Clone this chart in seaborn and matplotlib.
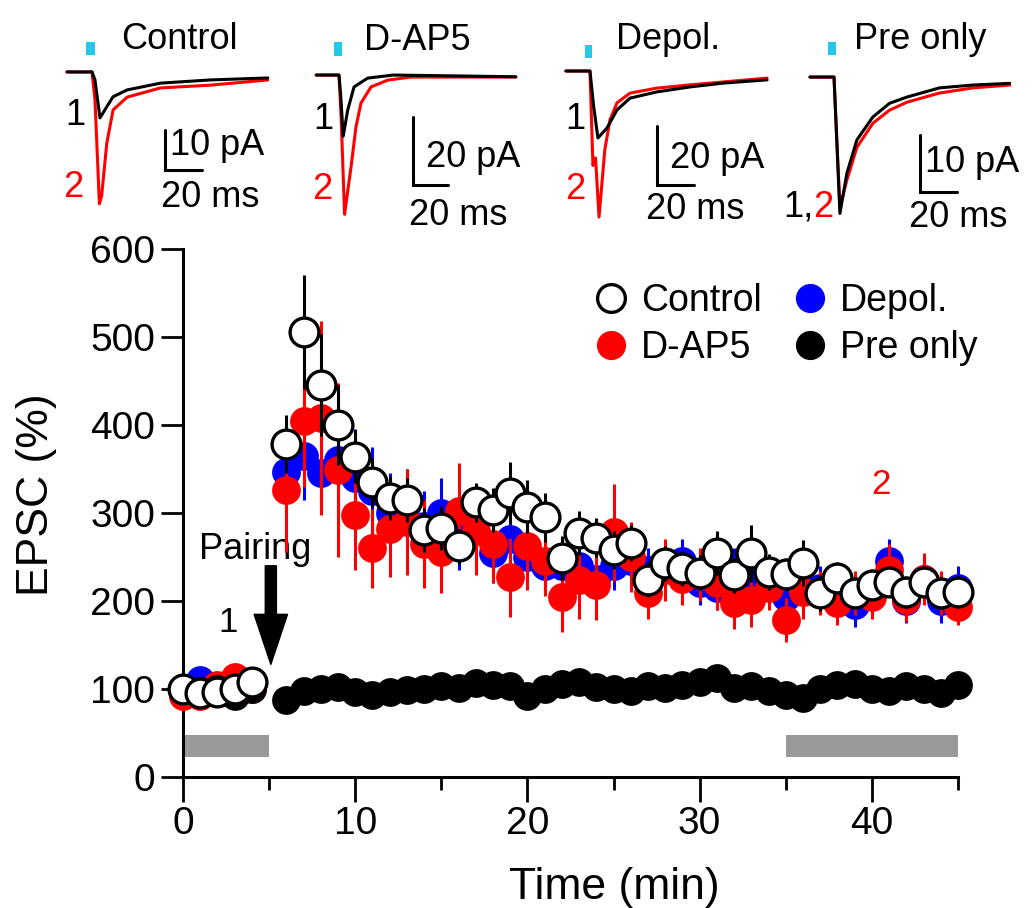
import matplotlib
matplotlib.use("Agg")
import matplotlib.pyplot as plt
from matplotlib.lines import Line2D
from matplotlib.patches import Rectangle
import seaborn as sns
import pandas as pd

# ---- time course data (EPSC, % of baseline) ----
time_base = [0, 1, 2, 3, 4]
time_post = list(range(6, 46))

control_base = [100, 95, 97, 100, 108]
control_post = [378, 506, 445, 400, 364, 335, 317, 315, 281, 283, 262, 312, 303,
                323, 307, 295, 249, 277, 272, 258, 266, 224, 243, 237, 232, 254,
                229, 254, 233, 231, 243, 209, 226, 209, 218, 222, 210, 222, 209, 210]
control_base_err = [10, 10, 10, 10, 12]
control_post_err = [33, 65, 58, 45, 30, 28, 25, 25, 25, 25, 20, 22, 25, 35, 30, 28,
                    25, 25, 22, 22, 20, 20, 20, 20, 20, 25, 20, 32, 20, 18, 26, 20,
                    18, 18, 18, 18, 18, 18, 18, 18]

dap5_base = [92, 92, 105, 114, 100]
dap5_post = [326, 405, 408, 349, 298, 260, 282, 290, 265, 256, 302, 280, 265, 227,
             262, 246, 205, 224, 218, 278, 250, 209, 235, 225, 230, 220, 198, 201,
             215, 178, 210, 209, 198, 209, 205, 235, 201, 225, 209, 193]
dap5_base_err = [12, 12, 14, 15, 12]
dap5_post_err = [70, 75, 110, 99, 63, 45, 55, 60, 50, 47, 55, 50, 45, 45, 50, 40,
                 40, 45, 40, 55, 40, 30, 35, 30, 30, 30, 30, 30, 25, 25, 30, 25,
                 25, 25, 25, 30, 25, 30, 25, 20]

depol_base = [100, 110, 100, 105, 103]
depol_post = [347, 365, 345, 360, 340, 325, 300, 310, 285, 300, 270, 290, 255, 270,
              250, 240, 240, 240, 225, 240, 245, 235, 240, 245, 220, 215, 235, 220,
              225, 205, 215, 215, 215, 195, 210, 245, 200, 225, 200, 215]
depol_base_err = [10, 10, 10, 10, 10]
depol_post_err = [40, 50, 45, 60, 55, 50, 45, 40, 40, 40, 35, 35, 35, 30, 30, 30,
                  30, 30, 28, 28, 28, 25, 25, 25, 25, 25, 25, 25, 25, 25, 25, 25,
                  25, 25, 25, 25, 25, 25, 25, 25]

pre_base = [100, 98, 100, 92, 100]
pre_post = [88, 98, 100, 102, 97, 93, 97, 99, 100, 103, 101, 107, 104, 103, 92,
            100, 106, 108, 102, 100, 98, 103, 101, 105, 108, 112, 101, 103, 98,
            93, 90, 100, 104, 106, 100, 98, 103, 100, 96, 105]

series_names = ["Depol.", "D-AP5", "Control", "Pre only"]

# ---- example traces (time in ms, current in pA) ----
ctrl_t1 = [-13.5, 0, 1.6, 4.3, 8, 11.4, 19, 37, 64, 95]
ctrl_i1 = [0, 0, -2, -11.5, -8.7, -6.2, -4.5, -2.8, -2, -1.5]
ctrl_t2 = [-13.5, 0, 1.6, 4, 5.2, 8, 11.4, 19, 37, 64, 95]
ctrl_i2 = [0, 0, -7, -33, -31, -17.8, -9.5, -6.3, -4, -3.3, -2]

dap5_t1 = [-13, 0, 1, 2.4, 5, 8.6, 16.4, 31, 101]
dap5_i1 = [0, 0, -6, -18, -10.3, -3.5, -0.9, 0, -0.5]
dap5_t2 = [-13, 0, 1.2, 3.2, 6.9, 9.7, 12.6, 18.3, 27.8, 41, 101]
dap5_i2 = [0, 0, -12, -41, -27, -15.3, -8.2, -3.5, -1.5, -0.6, -0.6]

depol_t1 = [-13, 0, 2, 4.3, 9.2, 14.6, 21.6, 36, 54, 72, 95.7]
depol_i1 = [0, 0, -12, -22.7, -19.3, -13.2, -9.2, -7.1, -5.4, -4.1, -3]
depol_t2 = [-13, 0, 1.6, 3, 4.9, 8, 10.8, 14.6, 21.6, 36, 54, 72, 95.7]
depol_i2 = [0, 0, -32, -29.5, -49.5, -26.8, -16.6, -10.8, -7.5, -5.8, -4.7, -3.7, -2.4]

pre_t1 = [-13, 0, 3.2, 7, 12.4, 21, 30, 39.5, 57, 75, 95]
pre_i1 = [0, 0, -23.9, -16.8, -11, -7, -4.6, -3.5, -1.9, -1.4, -1.1]
pre_t2 = [-13, 0, 3.2, 7, 12.4, 21, 30, 39.5, 57, 75, 95]
pre_i2 = [0, 0, -22.8, -18, -12.3, -8.1, -5.8, -4.4, -2.8, -1.9, -1.4]

sns.set_style("ticks")
plt.rcParams["font.family"] = ["Liberation Sans", "DejaVu Sans"]
for k in ["text.color", "axes.labelcolor", "xtick.color", "ytick.color",
          "axes.edgecolor"]:
    plt.rcParams[k] = "black"

W, H = 1034, 908
fig = plt.figure(figsize=(W / 100, H / 100), dpi=100)


def px_axes(x0, y0, x1, y1):
    return fig.add_axes([x0 / W, 1 - y1 / H, (x1 - x0) / W, (y1 - y0) / H])


# ---- main time-course panel ----
ax = px_axes(183, 249, 958, 777)

colors = {"Control": "white", "D-AP5": "#ff0000", "Depol.": "#0000ff", "Pre only": "black"}
err_colors = {"Control": "black", "D-AP5": "#ff0000", "Depol.": "#0000ff", "Pre only": "black"}
values = {
    "Control": (control_base + control_post, control_base_err + control_post_err),
    "D-AP5": (dap5_base + dap5_post, dap5_base_err + dap5_post_err),
    "Depol.": (depol_base + depol_post, depol_base_err + depol_post_err),
    "Pre only": (pre_base + pre_post, [0] * (len(pre_base) + len(pre_post))),
}
times = time_base + time_post

rows = []
for name in series_names:
    vals, errs = values[name]
    for t, v, e in zip(times, vals, errs):
        rows.append({"time": t, "epsc": v, "sem": e, "group": name})
df = pd.DataFrame(rows)

z = {"Depol.": 3, "D-AP5": 4, "Control": 6, "Pre only": 5}
for name in series_names:
    d = df[df["group"] == name]
    ax.vlines(d["time"], d["epsc"] - d["sem"], d["epsc"] + d["sem"],
              color=err_colors[name], lw=2.2, zorder=z[name], clip_on=False)
    sns.scatterplot(data=d, x="time", y="epsc", ax=ax, s=430,
                    color=colors[name],
                    edgecolor="black" if name == "Control" else colors[name],
                    linewidth=2.4 if name == "Control" else 0,
                    zorder=z[name] + 0.5, clip_on=False, legend=False)

# conditioning bars
ax.fill_between([0, 5], 23, 48, color="#999999", lw=0, zorder=2)
ax.fill_between([35, 45], 23, 48, color="#999999", lw=0, zorder=2)

ax.annotate("", xy=(5.1, 128), xytext=(5.1, 240),
            arrowprops=dict(facecolor="black", edgecolor="black", width=8,
                            headwidth=24, headlength=36, shrink=0))
ax.text(4.2, 258, "Pairing", ha="center", va="center", fontsize=26)
ax.text(2.6, 175, "1", ha="center", va="center", fontsize=25)
ax.text(40.5, 332, "2", ha="center", va="center", fontsize=25, color="#ff0000")

ax.set_xlim(0, 45)
ax.set_ylim(0, 600)
ax.set_xticks([0, 10, 20, 30, 40])
ax.set_xticks([5, 15, 25, 35, 45], minor=True)
ax.set_yticks(range(0, 601, 100))
ax.tick_params(axis="both", which="both", direction="out", width=2, labelsize=28)
ax.tick_params(axis="x", which="major", length=18, pad=3)
ax.tick_params(axis="x", which="minor", length=9.5)
ax.tick_params(axis="y", length=16, pad=4)
ax.set_xlabel("Time (min)", fontsize=32)
ax.set_ylabel("EPSC (%)", fontsize=32)
ax.xaxis.set_label_coords(0.557, -0.17)
ax.yaxis.set_label_coords(-0.163, 0.534)
for s in ["top", "right"]:
    ax.spines[s].set_visible(False)
for s in ["left", "bottom"]:
    ax.spines[s].set_linewidth(2.2)
ax.set_facecolor("none")

handles = [
    Line2D([], [], ls="", marker="o", ms=20, mfc="white", mec="black", mew=2.4),
    Line2D([], [], ls="", marker="o", ms=20, mfc="#ff0000", mec="#ff0000"),
    Line2D([], [], ls="", marker="o", ms=20, mfc="#0000ff", mec="#0000ff"),
    Line2D([], [], ls="", marker="o", ms=20, mfc="black", mec="black"),
]
fig.legend(handles, ["Control", "D-AP5", "Depol.", "Pre only"], ncol=2,
           loc="upper left", bbox_to_anchor=(592 / W, 1 - 283 / H),
           frameon=False, fontsize=27, handletextpad=0.3, columnspacing=0.8,
           labelspacing=0.3, borderpad=0, borderaxespad=0, handlelength=1.0)

# ---- trace insets ----
insets = [
    dict(box=(60, 20, 275, 225), xlim=(-17.3, 98.9), ylim=(-38.3, 13),
         t1=ctrl_t1, i1=ctrl_i1, t2=ctrl_t2, i2=ctrl_i2, title="Control",
         title_xy=(47, 8.0), bar_x=39.5, bar_top=-14.5, bar_pa=10,
         pa_xy=(42, -18.5), ms_xy=(64, -31.3), lab1=(-9.2, -11), lab2=(-10, -29),
         stim=(-3.2, 4.6, 4.25, 3.3)),
    dict(box=(305, 20, 530, 230), xlim=(-19.4, 109.1), ylim=(-45.6, 16.2),
         t1=dap5_t1, i1=dap5_i1, t2=dap5_t2, i2=dap5_i2, title="D-AP5",
         title_xy=(44.6, 10.3), bar_x=42.3, bar_top=-12.4, bar_pa=20,
         pa_xy=(49.5, -24.4), ms_xy=(68, -41.2), lab1=(-9, -13.2), lab2=(-9.7, -33.8),
         stim=(-2.9, 4.6, 5.6, 4.1)),
    dict(box=(555, 20, 780, 230), xlim=(-18.9, 102.7), ylim=(-53.9, 17.3),
         t1=depol_t1, i1=depol_i1, t2=depol_t2, i2=depol_i2, title="Depol.",
         title_xy=(42, 10.6), bar_x=36.2, bar_top=-18.6, bar_pa=20,
         pa_xy=(43.2, -29.5), ms_xy=(56.8, -47.1), lab1=(-8.1, -16.6), lab2=(-8.1, -40.3),
         stim=(-2.7, 3.8, 4.4, 4.4)),
    dict(box=(790, 20, 1030, 230), xlim=(-23.8, 106), ylim=(-26.8, 10),
         t1=pre_t1, i1=pre_i1, t2=pre_t2, i2=pre_i2, title="Pre only",
         title_xy=(46.5, 6.5), bar_x=46.5, bar_top=-10.2, bar_pa=10,
         pa_xy=(49.2, -14.9), ms_xy=(67, -24.6), lab1=None, lab2=None,
         stim=(-3.2, 4.3, 3.9, 2.2)),
]

for ins in insets:
    a = px_axes(*ins["box"])
    a.set_xlim(*ins["xlim"])
    a.set_ylim(*ins["ylim"])
    a.axis("off")
    sns.lineplot(x=ins["t1"], y=ins["i1"], ax=a, color="black", lw=2.2, zorder=3)
    sns.lineplot(x=ins["t2"], y=ins["i2"], ax=a, color="#ff0000", lw=2.2, zorder=2)
    sx, sw, sy, sh = ins["stim"]
    a.add_patch(Rectangle((sx, sy), sw, sh, color="#22c8e8", lw=0))
    a.text(ins["title_xy"][0], ins["title_xy"][1], ins["title"], ha="center",
           va="center", fontsize=26)
    bx, bt, bp = ins["bar_x"], ins["bar_top"], ins["bar_pa"]
    a.plot([bx, bx, bx + 20], [bt, bt - bp, bt - bp], color="black", lw=2.2,
           solid_joinstyle="miter")
    a.text(ins["pa_xy"][0], ins["pa_xy"][1], f"{bp} pA", ha="left", va="center",
           fontsize=26)
    a.text(ins["ms_xy"][0], ins["ms_xy"][1], "20 ms", ha="center", va="center",
           fontsize=26)
    if ins["lab1"] is not None:
        a.text(*ins["lab1"], "1", ha="center", va="center", fontsize=26)
        a.text(*ins["lab2"], "2", ha="center", va="center", fontsize=26,
               color="#ff0000")
    else:
        a.text(-11.2, -22.8, "1,", ha="right", va="center", fontsize=26)
        a.text(-0.5, -22.8, "2", ha="right", va="center", fontsize=26,
               color="#ff0000")

fig.savefig("out.png", dpi=100, facecolor="white")
